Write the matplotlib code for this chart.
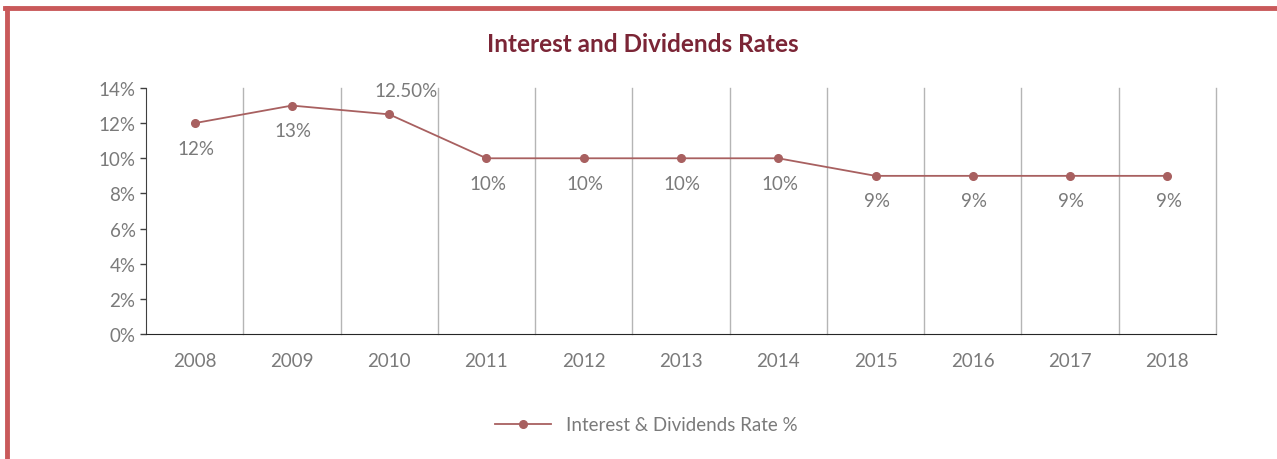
import matplotlib.pyplot as plt
from matplotlib.lines import Line2D

years = ['2008', '2009', '2010', '2011', '2012', '2013', '2014', '2015', '2016', '2017', '2018']
rates = [12, 13, 12.5, 10, 10, 10, 10, 9, 9, 9, 9]
labels = ['12%', '13%', '12.50%', '10%', '10%', '10%', '10%', '9%', '9%', '9%', '9%']
label_above = [False, False, True, False, False, False, False, False, False, False, False]

plt.rcParams['font.family'] = ['Lato', 'DejaVu Sans']
grey = '#7a7a7a'
line_col = '#a86060'
fs = 13.5

fig = plt.figure(figsize=(12.77, 4.6), dpi=100)
ax = fig.add_axes([146 / 1277, 125 / 460, 1070 / 1277, 246 / 460])

x = list(range(len(years)))
ax.plot(x, rates, color=line_col, lw=1.3, marker='o', ms=5.5, label='Interest & Dividends Rate %')

for i, (v, t) in enumerate(zip(rates, labels)):
    if label_above[i]:
        ax.annotate(t, (i, v), xytext=(12, 17), textcoords='offset points', ha='center', va='center',
                    color=grey, fontsize=fs)
    else:
        ax.annotate(t, (i, v), xytext=(1, -18), textcoords='offset points', ha='center', va='center',
                    color=grey, fontsize=fs)

# category separators
for b in range(len(years)):
    ax.axvline(b + 0.5, color='#b5b5b5', lw=1, zorder=0, clip_on=False)

ax.set_xlim(-0.5, len(years) - 0.5)
ax.set_ylim(0, 14)
ax.set_yticks(range(0, 15, 2))
ax.set_yticklabels([f'{v}%' for v in range(0, 15, 2)])
ax.set_xticks(x)
ax.set_xticklabels(years)
ax.tick_params(axis='y', colors='#404040', labelcolor=grey, labelsize=fs, length=4, width=1)
ax.tick_params(axis='x', length=0, labelcolor=grey, labelsize=fs, pad=13)

ax.spines['top'].set_visible(False)
ax.spines['right'].set_visible(False)
ax.spines['left'].set_color('#404040')
ax.spines['bottom'].set_color('#262626')

fig.text(0.503, 1 - 44 / 460, 'Interest and Dividends Rates', ha='center', va='center',
         fontsize=17.5, fontweight='bold', color='#7b2536')

leg = fig.legend(loc='center', bbox_to_anchor=(0.506, 1 - 426 / 460), frameon=False,
                 fontsize=fs, handlelength=3)
for t in leg.get_texts():
    t.set_color(grey)

# red frame on top and left
fig.add_artist(Line2D([5 / 1277, 1], [1 - 9 / 460, 1 - 9 / 460], color='#c9595a', lw=3.5,
                      transform=fig.transFigure))
fig.add_artist(Line2D([7 / 1277, 7 / 1277], [0, 1 - 9 / 460], color='#c9595a', lw=3.5,
                      transform=fig.transFigure))

fig.savefig('out.png', dpi=100)
